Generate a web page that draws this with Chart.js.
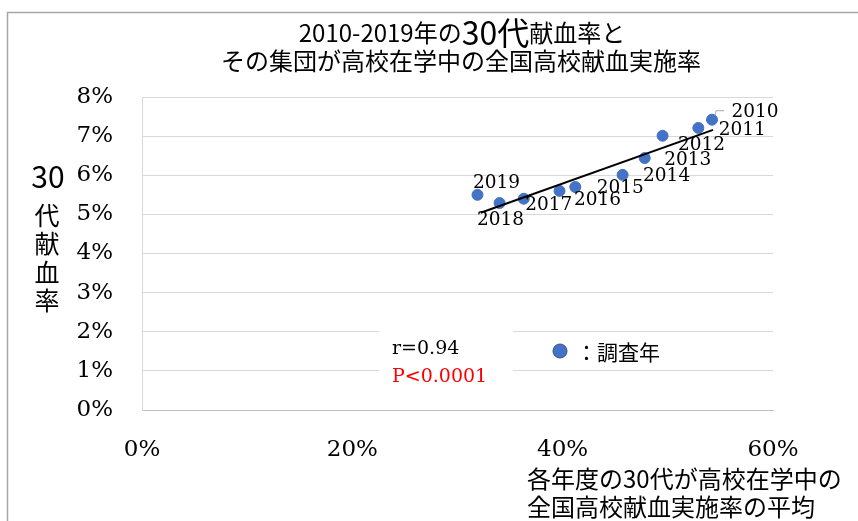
<!DOCTYPE html>
<html>
<head>
<meta charset="utf-8">
<script src="https://cdn.jsdelivr.net/npm/chart.js@4"></script>
<style>
  html, body { margin: 0; padding: 0; background: #fff; }
  #wrap { width: 858px; height: 521px; position: relative; }
</style>
</head>
<body>
<div id="wrap"><canvas id="bloodChart"></canvas></div>
<script>
// 調査年ごとの値
const years = ['2010', '2011', '2012', '2013', '2014', '2015', '2016', '2017', '2018', '2019'];
const schoolRate = [54.2, 52.9, 49.5, 47.8, 45.7, 41.2, 39.7, 36.3, 34.0, 31.9];   // 全国高校献血実施率の平均 (%)
const donation30s = [7.42, 7.21, 7.01, 6.44, 6.01, 5.70, 5.60, 5.40, 5.29, 5.50];  // 30代献血率 (%)
// 近似直線の両端
const trendX = [32.2, 54.3];
const trendY = [5.04, 7.16];
const xTicks = [0, 20, 40, 60];
const yTicks = [0, 1, 2, 3, 4, 5, 6, 7, 8];

// ラベルの位置調整（点からのずれ）
const labelOffsets = [[43, -8], [44, 2], [39, 9], [43, 2], [44, 1], [45, 1], [38, 9], [25, 6], [1, 17], [19, -12]];

const sans = '"Noto Sans CJK JP", "Noto Sans", sans-serif';
const serif = '"DejaVu Serif", serif';

const decorations = {
    id: 'decorations',
    beforeDraw(chart) {
        const c = chart.ctx;
        c.save();
        c.strokeStyle = '#a6a6a6';
        c.lineWidth = 1.5;
        c.strokeRect(7.5, 12.5, 900, 600);
        c.restore();
    },
    afterDraw(chart) {
        const c = chart.ctx;
        c.save();
        c.fillStyle = '#000';
        c.textBaseline = 'middle';

        // タイトル1行目（「30代」だけ大きい）
        const parts = [['2010-2019年の', 24], ['30代', 32], ['献血率と', 24]];
        let total = 0;
        parts.forEach(p => { c.font = p[1] + 'px ' + sans; total += c.measureText(p[0]).width; });
        let x = 462 - total / 2;
        c.textAlign = 'left';
        parts.forEach(p => {
            c.font = p[1] + 'px ' + sans;
            c.fillText(p[0], x, 33);
            x += c.measureText(p[0]).width;
        });
        c.textAlign = 'center';
        c.font = '24px ' + sans;
        c.fillText('その集団が高校在学中の全国高校献血実施率', 461, 61);

        // 縦軸タイトル
        c.font = '30px ' + sans;
        c.fillText('30', 48, 177);
        c.font = '25px ' + sans;
        ['代', '献', '血', '率'].forEach((ch, i) => c.fillText(ch, 47, 215 + i * 28.5));

        // 横軸タイトル
        c.textAlign = 'left';
        c.font = '24px ' + sans;
        c.fillText('各年度の30代が高校在学中の', 527, 479);
        c.fillText('全国高校献血実施率の平均', 527, 507);

        // r と P の枠
        c.fillStyle = '#fff';
        c.fillRect(379, 326, 134, 66);
        c.fillStyle = '#000';
        c.font = '19px ' + serif;
        c.fillText('r=0.94', 392, 349);
        c.fillStyle = '#ff0000';
        c.fillText('P<0.0001', 392, 377);

        // 凡例
        c.beginPath();
        c.arc(560, 351, 7, 0, Math.PI * 2);
        c.fillStyle = '#4472c4';
        c.fill();
        c.strokeStyle = '#2f528f';
        c.lineWidth = 1;
        c.stroke();
        c.fillStyle = '#000';
        c.font = '21px ' + sans;
        c.fillText('：調査年', 576, 352);

        // データラベル
        const meta = chart.getDatasetMeta(0);
        c.font = '18.5px ' + serif;
        c.textAlign = 'center';
        meta.data.forEach((pt, i) => {
            const off = labelOffsets[i];
            c.fillText(years[i], pt.x + off[0], pt.y + off[1]);
        });
        // 2010 の引き出し線
        const p0 = meta.data[0];
        c.strokeStyle = '#a6a6a6';
        c.lineWidth = 1;
        c.beginPath();
        c.moveTo(p0.x + 3, p0.y - 4);
        c.lineTo(p0.x + 4, p0.y - 9);
        c.lineTo(p0.x + 12, p0.y - 9);
        c.stroke();
        c.restore();
    }
};

const ctx = document.getElementById('bloodChart').getContext('2d');
const bloodChart = new Chart(ctx, {
    type: 'scatter',
    data: {
        datasets: [{
            label: '調査年',
            data: schoolRate.map((v, i) => ({ x: v, y: donation30s[i] })),
            backgroundColor: '#4472c4',
            borderColor: '#4472c4',
            pointRadius: 5.5,
            order: 2
        }, {
            label: 'trend',
            type: 'line',
            data: trendX.map((v, i) => ({ x: v, y: trendY[i] })),
            borderColor: '#000',
            borderWidth: 2,
            pointRadius: 0,
            fill: false,
            order: 1
        }]
    },
    options: {
        responsive: true,
        maintainAspectRatio: false,
        animation: false,
        layout: { padding: { left: 0, top: 97, right: 85, bottom: 0 } },
        plugins: {
            legend: { display: false },
            tooltip: { enabled: false }
        },
        scales: {
            x: {
                type: 'linear',
                min: 0,
                max: 60,
                afterBuildTicks: s => { s.ticks = xTicks.map(v => ({ value: v })); },
                afterFit: s => { s.height = 111; },
                grid: { display: false, drawTicks: false },
                border: { display: true, color: '#bfbfbf', width: 1 },
                ticks: {
                    padding: 26,
                    color: '#000',
                    font: { family: serif, size: 23 },
                    maxRotation: 0,
                    callback: v => v + '%'
                }
            },
            y: {
                min: 0,
                max: 8,
                afterBuildTicks: s => { s.ticks = yTicks.map(v => ({ value: v })); },
                afterFit: s => { s.width = 142; },
                grid: { color: '#d9d9d9', drawTicks: false },
                border: { display: true, color: '#d9d9d9', width: 1 },
                ticks: {
                    padding: 29,
                    color: '#000',
                    font: { family: serif, size: 23 },
                    callback: v => v + '%'
                }
            }
        }
    },
    plugins: [decorations]
});
</script>
</body>
</html>
